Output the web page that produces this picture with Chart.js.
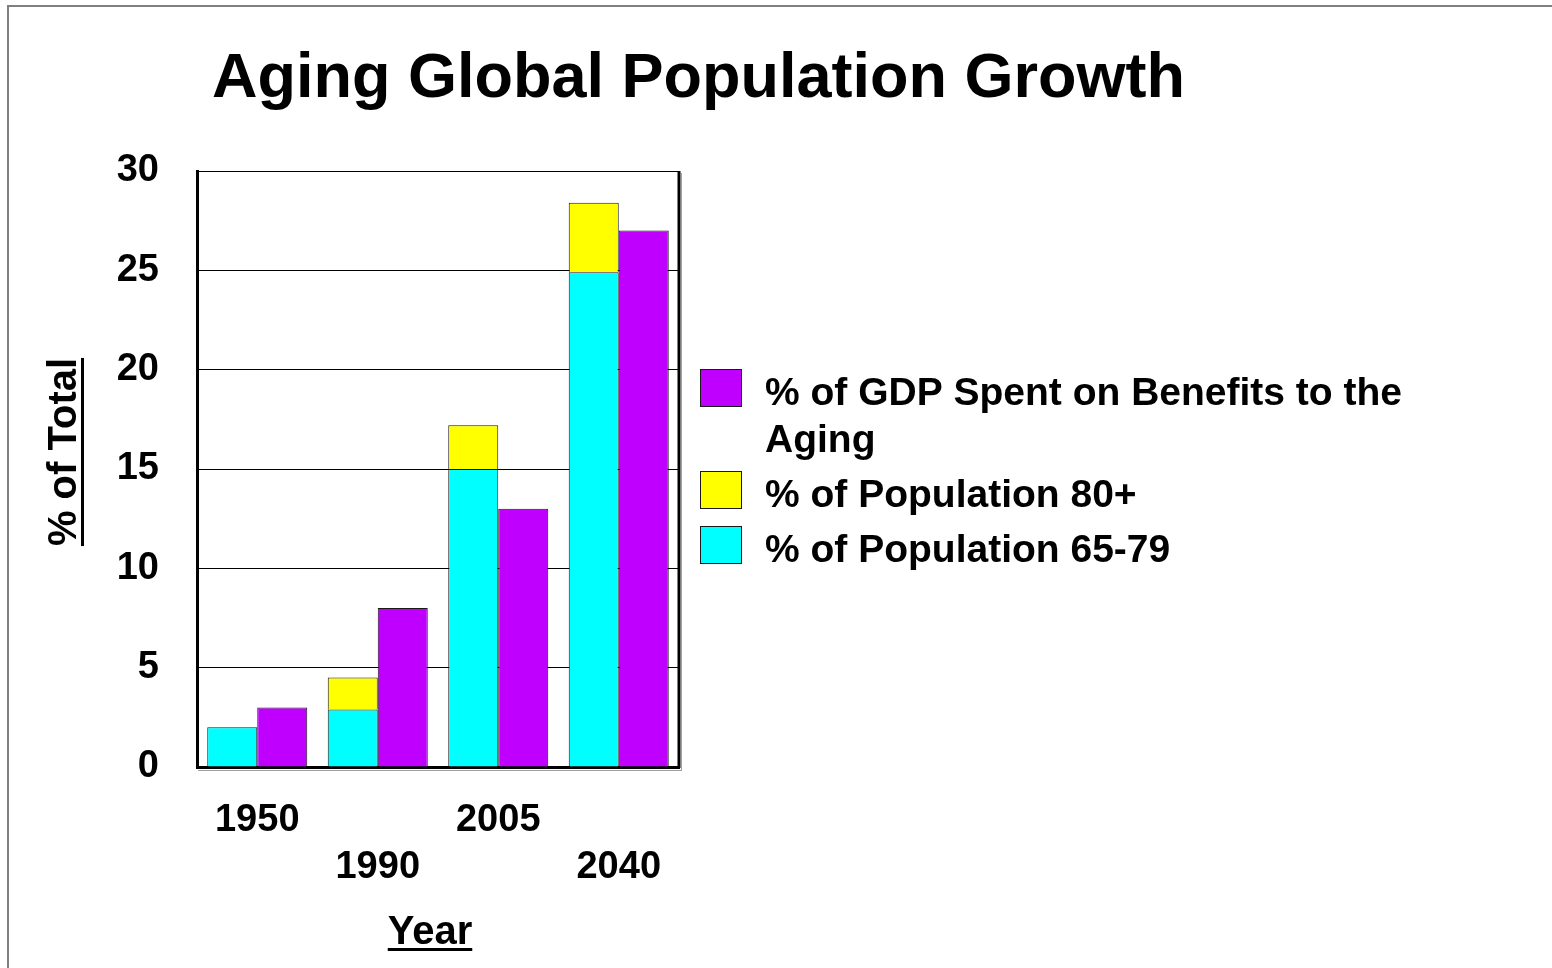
<!DOCTYPE html>
<html>
<head>
<meta charset="utf-8">
<title>Aging Global Population Growth</title>
<script src="https://cdn.jsdelivr.net/npm/chart.js@4/dist/chart.umd.min.js"></script>
<style>
  html, body { margin: 0; padding: 0; background: #fff; }
  #wrap { width: 1552px; height: 968px; }
</style>
</head>
<body>
<div id="wrap"><canvas id="chart" width="1552" height="968"></canvas></div>
<script>
// Years shown on the category axis (second and fourth are dropped a line)
const categories = ['1950', '1990', '2005', '2040'];
const tickLabels = ['1950', ['', '1990'], '2005', ['', '2040']];
const yTicks = [0, 5, 10, 15, 20, 25, 30];

// Series values, percent of total
const pop6579 = [2, 2.9, 15, 24.9];
const pop80plus = [0, 1.6, 2.2, 3.5];
const gdpBenefits = [3, 8, 13, 27];

const seriesNames = {
  young: '% of Population 65-79',
  old: '% of Population 80+',
  gdp: '% of GDP Spent on Benefits to the Aging'
};

const FONT = '"Liberation Sans", Arial, Helvetica, sans-serif';
const CYAN = '#00FFFF';
const YELLOW = '#FFFF00';
const PURPLE = '#BF00FF';
const EDGE = '#1a1a1a';

function wrapText(ctx, text, maxWidth) {
  const words = text.split(' ');
  const lines = [];
  let line = '';
  for (const w of words) {
    const test = line ? line + ' ' + w : w;
    if (ctx.measureText(test).width > maxWidth && line) {
      lines.push(line);
      line = w;
    } else {
      line = test;
    }
  }
  if (line) lines.push(line);
  return lines;
}

const decorations = {
  id: 'decorations',
  beforeDraw(chart) {
    const ctx = chart.ctx;
    ctx.save();
    ctx.fillStyle = '#ffffff';
    ctx.fillRect(0, 0, chart.width, chart.height);
    // slide frame (top and left edges)
    ctx.fillStyle = '#808080';
    ctx.fillRect(7, 5, chart.width - 7, 2);
    ctx.fillRect(7, 5, 2, chart.height - 5);
    ctx.restore();
  },
  afterDraw(chart) {
    const ctx = chart.ctx;
    const area = chart.chartArea;
    ctx.save();

    // right edge of plot box plus soft shadow lines
    ctx.fillStyle = '#000';
    ctx.fillRect(area.right - 1.5, area.top, 3, area.bottom - area.top + 1);
    ctx.fillStyle = '#a0a0a0';
    ctx.fillRect(area.right + 2, area.top + 2, 1, area.bottom - area.top + 2);
    ctx.fillRect(area.left + 1, area.bottom + 3, area.right - area.left + 2, 1);

    // title
    ctx.fillStyle = '#000';
    ctx.font = 'bold 63px ' + FONT;
    ctx.textAlign = 'left';
    ctx.textBaseline = 'alphabetic';
    ctx.fillText('Aging Global Population Growth', 212, 97);

    // y axis title, rotated and underlined
    ctx.font = 'bold 40px ' + FONT;
    const yTitle = '% of Total';
    const yw = ctx.measureText(yTitle).width;
    ctx.save();
    ctx.translate(76, 452);
    ctx.rotate(-Math.PI / 2);
    ctx.textAlign = 'center';
    ctx.fillText(yTitle, 0, 0);
    ctx.fillRect(-yw / 2, 5, yw, 3);
    ctx.restore();

    // x axis title, underlined
    const xTitle = 'Year';
    const xw = ctx.measureText(xTitle).width;
    const xc = 430;
    ctx.textAlign = 'center';
    ctx.fillText(xTitle, xc, 944);
    ctx.fillRect(xc - xw / 2, 948, xw, 3);

    // legend, listed top to bottom in reverse dataset order
    ctx.font = 'bold 39px ' + FONT;
    const items = chart.data.datasets.slice().reverse();
    const boxX = 700, boxW = 42, boxH = 38, textX = 765, lineH = 47;
    let top = 369;
    ctx.textAlign = 'left';
    ctx.textBaseline = 'middle';
    for (const ds of items) {
      ctx.fillStyle = ds.backgroundColor;
      ctx.fillRect(boxX, top, boxW, boxH);
      ctx.strokeStyle = EDGE;
      ctx.lineWidth = 1;
      ctx.strokeRect(boxX + 0.5, top + 0.5, boxW - 1, boxH - 1);
      ctx.fillStyle = '#000';
      const lines = wrapText(ctx, ds.label, 680);
      lines.forEach((ln, i) => ctx.fillText(ln, textX, top + 25 + i * lineH));
      top += 55 + lineH * (lines.length - 1);
    }
    ctx.restore();
  }
};

new Chart(document.getElementById('chart'), {
  type: 'bar',
  data: {
    labels: tickLabels,
    datasets: [
      { label: seriesNames.young, data: pop6579, stack: 'population',
        backgroundColor: CYAN, borderColor: EDGE, borderWidth: 1 },
      { label: seriesNames.old, data: pop80plus, stack: 'population',
        backgroundColor: YELLOW, borderColor: EDGE, borderWidth: 1 },
      { label: seriesNames.gdp, data: gdpBenefits, stack: 'gdp',
        backgroundColor: PURPLE, borderColor: EDGE, borderWidth: 1 }
    ]
  },
  options: {
    responsive: false,
    animation: false,
    events: [],
    layout: { padding: { left: 0, right: 873, top: 171, bottom: 0 } },
    datasets: { bar: { categoryPercentage: 0.83, barPercentage: 1.0 } },
    plugins: {
      legend: { display: false },
      title: { display: false },
      tooltip: { enabled: false }
    },
    scales: {
      x: {
        stacked: true,
        grid: { display: false, drawTicks: false },
        border: { display: true, width: 3, color: '#000' },
        ticks: {
          color: '#000',
          padding: 30,
          maxRotation: 0,
          autoSkip: false,
          font: { family: FONT, size: 38, weight: 'bold', lineHeight: 1.24 }
        },
        afterFit(scale) { scale.height = 201; }
      },
      y: {
        stacked: true,
        min: 0,
        max: 30,
        afterBuildTicks(scale) { scale.ticks = yTicks.map(v => ({ value: v })); },
        grid: { color: '#000', lineWidth: 1, drawTicks: false },
        border: { display: true, width: 3, color: '#000' },
        ticks: {
          color: '#000',
          padding: 38,
          font: { family: FONT, size: 38, weight: 'bold' }
        },
        afterFit(scale) { scale.width = 197; }
      }
    }
  },
  plugins: [decorations]
});
</script>
</body>
</html>
